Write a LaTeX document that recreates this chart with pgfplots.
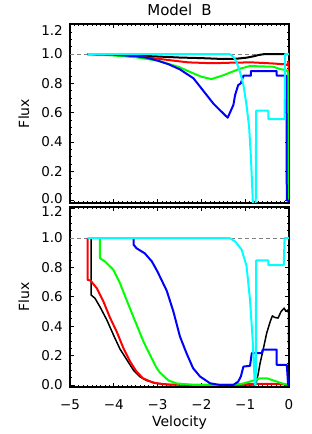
\documentclass[border=0pt]{standalone}
\usepackage{fontspec}
\setmainfont{DejaVu Sans}
\usepackage{pgfplots}
\pgfplotsset{compat=1.18}
\definecolor{dgray}{RGB}{128,128,128}
\definecolor{cRed}{RGB}{255,0,0}
\definecolor{cGreen}{RGB}{0,255,0}
\definecolor{cBlue}{RGB}{0,0,255}
\definecolor{cCyan}{RGB}{0,255,255}
\newcommand{\shiftlab}[2]{\raisebox{#1}[\height][\depth]{#2}}
\begin{document}
\begin{tikzpicture}
\path[use as bounding box] (0,0) rectangle (311pt,434pt);
\pgfplotsset{
  panel/.style={
    scale only axis, width=219pt,
    xmin=-5, xmax=0,
    xtick={-5,-4,-3,-2,-1,0},
    minor x tick num=9,
    ytick={0,0.2,0.4,0.6,0.8,1.0,1.2},
    minor y tick num=3,
    tick align=inside,
    major tick length=4pt, minor tick length=2pt,
    axis line style={line width=1.4pt},
    every tick/.append style={black, line width=0.7pt},
    tick label style={font=\fontsize{13.5}{13.5}\selectfont},
    label style={font=\fontsize{14}{14}\selectfont},
    ylabel={Flux},
    ylabel style={at={(axis description cs:-0.21,0.5)}, anchor=center},
    yticklabel style={anchor=east, inner sep=0pt, xshift=-7pt},
    clip=true,
  },
  dash/.style={dgray, line width=0.6pt, dash pattern=on 4pt off 3pt},
  cl/.style={line width=2pt, line join=round},
}
% ---------------- top panel ----------------
\begin{axis}[panel, at={(70pt,231pt)}, anchor=south west, height=179pt,
  ymin=-0.017, ymax=1.205, xticklabels={},
  yticklabels={\shiftlab{1.5pt}{0.0},0.2,0.4,0.6,0.8,1.0,\shiftlab{-5.5pt}{1.2}},
  title={Model\hspace{0.6em}B},
  title style={font=\fontsize{15}{15}\selectfont, at={(axis description cs:0.5,1)}, anchor=base, inner sep=0pt, yshift=2pt}]
\addplot[dash] coordinates {(-5,1) (0,1)};
\addplot[cl, black] coordinates {(-4.6,1.0) (-4.0,0.995) (-3.5,0.99) (-3.0,0.983) (-2.5,0.976) (-2.0,0.972) (-1.5,0.966) (-1.2,0.968) (-0.97,0.975) (-0.8,0.985) (-0.7,0.993) (-0.55,1.0) (0,1.0)};
\addplot[cl, cRed] coordinates {(-4.6,1.0) (-4.0,0.993) (-3.5,0.985) (-3.0,0.968) (-2.5,0.95) (-2.3,0.943) (-1.75,0.937) (-1.3,0.941) (-0.85,0.943) (-0.4,0.936) (-0.1,0.93) (-0.03,0.925) (-0.01,0.95) (-0.005,0.0)};
\addplot[cl, cGreen] coordinates {(-4.6,1.0) (-4.0,0.99) (-3.5,0.978) (-3.0,0.955) (-2.5,0.91) (-2.2,0.87) (-2.0,0.845) (-1.77,0.829) (-1.5,0.855) (-1.12,0.9) (-0.89,0.918) (-0.36,0.913) (-0.21,0.898) (-0.07,0.89) (-0.025,0.88) (-0.025,0.0)};
\addplot[cl, cBlue] coordinates {(-4.6,1.0) (-4.0,0.995) (-3.5,0.985) (-3.25,0.975) (-3.0,0.955) (-2.75,0.93) (-2.49,0.895) (-2.18,0.834) (-1.88,0.72) (-1.73,0.663) (-1.58,0.618) (-1.4,0.565) (-1.27,0.652) (-1.23,0.72) (-1.16,0.788) (-1.1,0.80) (-1.04,0.852) (-0.87,0.852) (-0.87,0.884) (-0.28,0.884) (-0.28,0.852) (-0.06,0.852) (-0.05,0.0) (0,0.0)};
\addplot[cl, cCyan] coordinates {(-4.6,1.0) (-1.36,1.0) (-1.27,0.982) (-1.2,0.947) (-1.12,0.879) (-1.04,0.788) (-0.97,0.652) (-0.91,0.5) (-0.87,0.3) (-0.84,0.094) (-0.82,-0.05) (-0.76,-0.05) (-0.75,0.613) (-0.47,0.613) (-0.47,0.556) (-0.1,0.556) (-0.09,1.0) (0,1.0)};
\end{axis}
% ---------------- bottom panel ----------------
\begin{axis}[panel, at={(70pt,47pt)}, anchor=south west, height=180pt,
  ymin=-0.014, ymax=1.211,
  yticklabels={0.0,0.2,0.4,0.6,0.8,1.0,\shiftlab{-3pt}{1.2}},
  xticklabels={−5,−4,−3,−2,−1,0},
  xticklabel style={anchor=base, inner sep=0pt, yshift=-23pt},
  xlabel={Velocity},
  xlabel style={at={(axis description cs:0.5,0)}, anchor=base, inner sep=0pt, yshift=-40pt}]
\addplot[dash] coordinates {(-5,1) (0,1)};
\addplot[line width=1.5pt, black, line join=round] coordinates {(-4.52,1.0) (-4.52,0.613) (-4.43,0.59) (-4.32,0.534) (-4.16,0.443) (-4.0,0.335) (-3.86,0.245) (-3.71,0.175) (-3.55,0.1) (-3.4,0.055) (-3.25,0.03) (-3.0,0.01) (-2.7,0.002) (-2.0,0.0) (-0.76,0.0) (-0.7,0.08) (-0.66,0.148) (-0.59,0.24) (-0.51,0.352) (-0.43,0.43) (-0.38,0.47) (-0.33,0.46) (-0.25,0.455) (-0.18,0.5) (-0.11,0.523) (-0.07,0.5) (-0.03,0.51) (-0.01,0.49) (0,0.0)};
\addplot[cl, cRed] coordinates {(-4.6,1.0) (-4.6,0.716) (-4.53,0.71) (-4.39,0.659) (-4.24,0.57) (-4.09,0.46) (-3.93,0.36) (-3.78,0.25) (-3.63,0.16) (-3.48,0.09) (-3.33,0.045) (-3.1,0.015) (-2.8,0.003) (-2.0,0.0) (-1.2,0.0) (-0.8,0.008) (-0.4,0.008) (-0.1,0.003) (0,0.0)};
\addplot[cl, cGreen] coordinates {(-4.32,1.0) (-4.32,0.864) (-4.2,0.84) (-4.01,0.784) (-3.86,0.693) (-3.71,0.58) (-3.63,0.52) (-3.48,0.41) (-3.33,0.3) (-3.2,0.22) (-3.03,0.12) (-2.95,0.085) (-2.75,0.03) (-2.56,0.01) (-2.2,0.001) (-1.3,0.0) (-1.04,0.01) (-0.89,0.023) (-0.74,0.038) (-0.66,0.045) (-0.5,0.045) (-0.28,0.023) (-0.13,0.008) (0,0.0)};
\addplot[cl, cBlue] coordinates {(-3.55,1.0) (-3.55,0.955) (-3.48,0.93) (-3.29,0.895) (-3.13,0.84) (-3.0,0.77) (-2.79,0.64) (-2.64,0.5) (-2.49,0.33) (-2.34,0.216) (-2.19,0.114) (-2.03,0.057) (-1.8,0.011) (-1.58,0.0) (-1.27,0.0) (-1.16,0.023) (-1.1,0.057) (-1.04,0.125) (-0.89,0.13) (-0.85,0.216) (-0.62,0.216) (-0.6,0.24) (-0.28,0.24) (-0.28,0.136) (-0.05,0.136) (-0.02,0.0) (0,0.0)};
\addplot[cl, cCyan] coordinates {(-4.6,1.0) (-1.36,1.0) (-1.23,0.977) (-1.08,0.92) (-0.97,0.81) (-0.89,0.58) (-0.83,0.31) (-0.79,0.057) (-0.78,0.0) (-0.76,0.0) (-0.75,0.847) (-0.47,0.847) (-0.47,0.815) (-0.12,0.815) (-0.1,1.0) (0,1.0)};
\end{axis}
\end{tikzpicture}
\end{document}
